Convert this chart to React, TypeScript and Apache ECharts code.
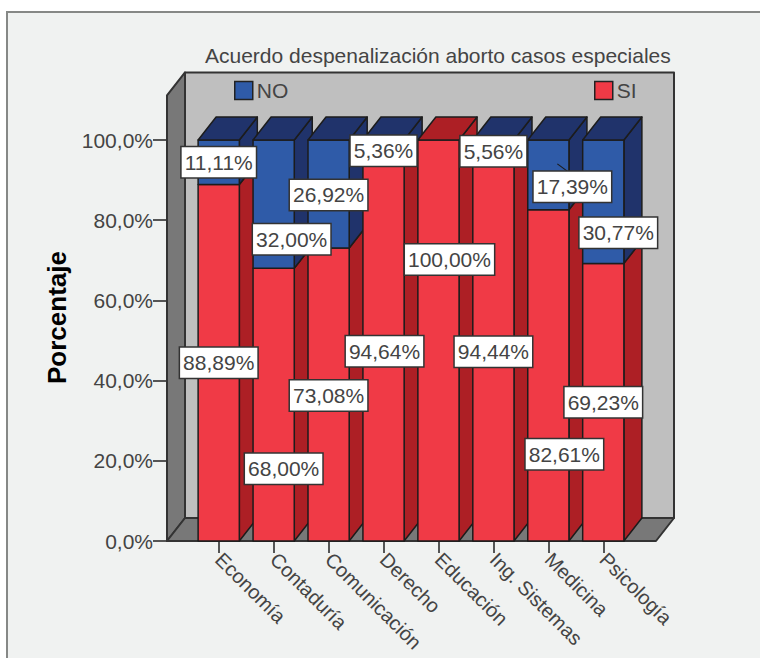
import React, { useEffect, useRef } from "react";
import * as echarts from "echarts";

const FONT = "'Liberation Sans', Arial, sans-serif";

const titleText = "Acuerdo despenalización aborto casos especiales";
const yAxisTitle = "Porcentaje";
const categories = ["Economía", "Contaduría", "Comunicación", "Derecho", "Educación", "Ing. Sistemas", "Medicina", "Psicología"];
const siValues = [88.89, 68.0, 73.08, 94.64, 100.0, 94.44, 82.61, 69.23];
const noValues = [11.11, 32.0, 26.92, 5.36, 0, 5.56, 17.39, 30.77];

// Where the reference moved its value labels away from the centre of the segment (px)
const siLabelShiftX = [0, 10, 0, 1, 11, 0, 16, 0];
const siLabelShiftY = [0, 64, 1, 0, -81, 0, 79, 0];
const noLabelShiftX = [0, 18, 0, 0, 0, 0, 24, 15];
const noLabelShiftY = [0, 35, 1, 0, 0, 0, 12, 31];

const COLORS = {
  page: "#f0f2f1",
  frame: "#868886",
  wallBack: "#bfbfbf",
  wallSide: "#787878",
  ink: "#444444",
  edge: "#1c1c1c",
  siFront: "#f03a46",
  siDark: "#ad1f25",
  noFront: "#2f5ba8",
  noDark: "#20336b",
};

const DEPTH_X = 18;
const DEPTH_Y = 23;
const BAR_RATIO = 0.75;
const PAD_LEFT = 24.25;
const PAD_RIGHT = 25.25;
const WALL_TOP = 111.1;
const TEXT_SIZE = 21;

const fmtTick = (v: number) => `${v.toFixed(1).replace(".", ",")}%`;
const fmtPct = (v: number) => `${v.toFixed(2).replace(".", ",")}%`;

function poly(points: number[][], fill: string, z2: number, lineWidth = 1.5, stroke = COLORS.edge) {
  return {
    type: "polygon",
    z2,
    silent: true,
    shape: { points },
    style: { fill, stroke, lineWidth, lineJoin: "round" },
  };
}

function renderWalls(_p: any, api: any) {
  const band = api.size([1, 0])[0];
  const [first, b] = api.coord([0, 0]);
  const [last] = api.coord([categories.length - 1, 0]);
  const [, t] = api.coord([0, WALL_TOP]);
  const x0 = first - band / 2 - PAD_LEFT;
  const x1 = last + band / 2 + PAD_RIGHT;
  const dx = DEPTH_X;
  const dy = DEPTH_Y;
  const s = "#333333";
  return {
    type: "group",
    children: [
      poly([[x0 + dx, t - dy], [x1 + dx, t - dy], [x1 + dx, b - dy], [x0 + dx, b - dy]], COLORS.wallBack, 1, 2, s),
      poly([[x0, t], [x0 + dx, t - dy], [x0 + dx, b - dy], [x0, b]], COLORS.wallSide, 2, 2, s),
      poly([[x0, b], [x0 + dx, b - dy], [x1 + dx, b - dy], [x1, b]], COLORS.wallSide, 2, 2, s),
    ],
  };
}

function segment(api: any, i: number, from: number, to: number, front: string, dark: string, capTop: boolean) {
  const [cx, yBase] = api.coord([i, from]);
  const [, yTop] = api.coord([i, to]);
  const half = (api.size([1, 0])[0] * BAR_RATIO) / 2;
  const x0 = cx - half;
  const x1 = cx + half;
  const z = 10 + i * 10;
  const kids: any[] = [
    poly([[x1, yTop], [x1 + DEPTH_X, yTop - DEPTH_Y], [x1 + DEPTH_X, yBase - DEPTH_Y], [x1, yBase]], dark, z),
    poly([[x0, yTop], [x1, yTop], [x1, yBase], [x0, yBase]], front, z + 1),
  ];
  if (capTop) {
    kids.push(poly([[x0, yTop], [x0 + DEPTH_X, yTop - DEPTH_Y], [x1 + DEPTH_X, yTop - DEPTH_Y], [x1, yTop]], dark, z + 2));
  }
  return { type: "group", children: kids };
}

function renderSi(_p: any, api: any) {
  const i = api.value(0);
  return segment(api, i, 0, api.value(1), COLORS.siFront, COLORS.siDark, noValues[i] === 0);
}

function renderNo(_p: any, api: any) {
  const i = api.value(0);
  const base = api.value(1);
  const v = api.value(2);
  if (!v) return { type: "group", children: [] };
  return segment(api, i, base, base + v, COLORS.noFront, COLORS.noDark, true);
}

function labelEl(text: string, x: number, y: number) {
  return {
    type: "text",
    z2: 500,
    silent: true,
    style: {
      text,
      x,
      y,
      align: "center",
      verticalAlign: "middle",
      fontFamily: FONT,
      fontSize: TEXT_SIZE,
      fill: COLORS.ink,
      backgroundColor: "#ffffff",
      borderColor: "#333333",
      borderWidth: 1.5,
      padding: [5, 3, 4, 3],
    },
  };
}

function renderLabels(_p: any, api: any) {
  const i = api.value(0);
  const si = api.value(1);
  const no = api.value(2);
  const kids: any[] = [];
  const [sx, sy] = api.coord([i, si / 2]);
  kids.push(labelEl(fmtPct(si), sx + siLabelShiftX[i], sy + siLabelShiftY[i]));
  if (no > 0) {
    const [nx, ny] = api.coord([i, si + no / 2]);
    const lx = nx + noLabelShiftX[i];
    const ly = ny + noLabelShiftY[i];
    if (categories[i] === "Medicina") {
      kids.push({
        type: "line",
        z2: 400,
        silent: true,
        shape: { x1: nx + 9, y1: ny - 11, x2: lx, y2: ly - 12 },
        style: { stroke: COLORS.edge, lineWidth: 1.2 },
      });
    }
    kids.push(labelEl(fmtPct(no), lx, ly));
  }
  return { type: "group", children: kids };
}

export default function App() {
  const ref = useRef<HTMLDivElement>(null);

  useEffect(() => {
    const chart = echarts.init(ref.current!, undefined, { renderer: "svg" });
    const legendBase = {
      orient: "horizontal",
      selectedMode: false,
      padding: 0,
      itemWidth: 18,
      itemHeight: 18,
      itemGap: 0,
      icon: "rect",
      textStyle: { fontFamily: FONT, fontSize: TEXT_SIZE, color: COLORS.ink, padding: [2, 0, 0, -1] },
      itemStyle: { borderColor: "#222222", borderWidth: 1.5 },
    };
    chart.setOption({
      animation: false,
      backgroundColor: "#ffffff",
      textStyle: { fontFamily: FONT },
      title: {
        text: titleText,
        left: 205,
        top: 45,
        padding: 0,
        textStyle: { fontFamily: FONT, fontSize: TEXT_SIZE, fontWeight: "normal", color: COLORS.ink },
      },
      legend: [
        { ...legendBase, left: 234, top: 80, data: ["NO"] },
        { ...legendBase, left: 594, top: 80, data: ["SI"] },
      ],
      grid: { left: 191.25, width: 439.5, top: 140, height: 401 },
      xAxis: {
        type: "category",
        data: categories,
        axisLine: { show: false },
        axisTick: { show: true, alignWithLabel: true, length: 12, lineStyle: { color: "#555555", width: 2 } },
        axisLabel: {
          interval: 0,
          rotate: -45,
          margin: 15,
          fontFamily: FONT,
          fontSize: 20,
          color: COLORS.ink,
        },
      },
      yAxis: {
        type: "value",
        min: 0,
        max: 100,
        interval: 20,
        offset: PAD_LEFT,
        splitLine: { show: false },
        axisLine: { show: false },
        axisTick: { show: true, length: 14, lineStyle: { color: "#555555", width: 2 } },
        axisLabel: {
          margin: 14,
          fontFamily: FONT,
          fontSize: TEXT_SIZE,
          color: COLORS.ink,
          formatter: (v: number) => fmtTick(v),
        },
      },
      graphic: [
        {
          type: "rect",
          z: -10,
          silent: true,
          shape: { x: 7, y: 12, width: 780, height: 680 },
          style: { fill: COLORS.page, stroke: COLORS.frame, lineWidth: 2 },
        },
        {
          type: "text",
          silent: true,
          x: 57,
          y: 317.5,
          rotation: Math.PI / 2,
          style: {
            text: yAxisTitle,
            align: "center",
            verticalAlign: "middle",
            fontFamily: FONT,
            fontSize: 26,
            fontWeight: "bold",
            fill: "#000000",
          },
        },
      ],
      series: [
        {
          type: "custom",
          name: "walls",
          z: 2,
          silent: true,
          clip: false,
          renderItem: renderWalls,
          encode: { x: 0, y: 1 },
          data: [[0, 0]],
        },
        {
          type: "custom",
          name: "SI",
          z: 3,
          silent: true,
          clip: false,
          itemStyle: { color: COLORS.siFront },
          renderItem: renderSi,
          encode: { x: 0, y: 1 },
          data: categories.map((_, i) => [i, siValues[i]]),
        },
        {
          type: "custom",
          name: "NO",
          z: 3,
          silent: true,
          clip: false,
          itemStyle: { color: COLORS.noFront },
          renderItem: renderNo,
          encode: { x: 0, y: 1 },
          data: categories.map((_, i) => [i, siValues[i], noValues[i]]),
        },
        {
          type: "custom",
          name: "labels",
          z: 5,
          silent: true,
          clip: false,
          renderItem: renderLabels,
          encode: { x: 0, y: 1 },
          data: categories.map((_, i) => [i, siValues[i], noValues[i]]),
        },
      ],
    });
    return () => chart.dispose();
  }, []);

  return (
    <div
      ref={ref}
      style={{ position: "fixed", left: 0, top: 0, width: 760, height: 658 }}
    />
  );
}
